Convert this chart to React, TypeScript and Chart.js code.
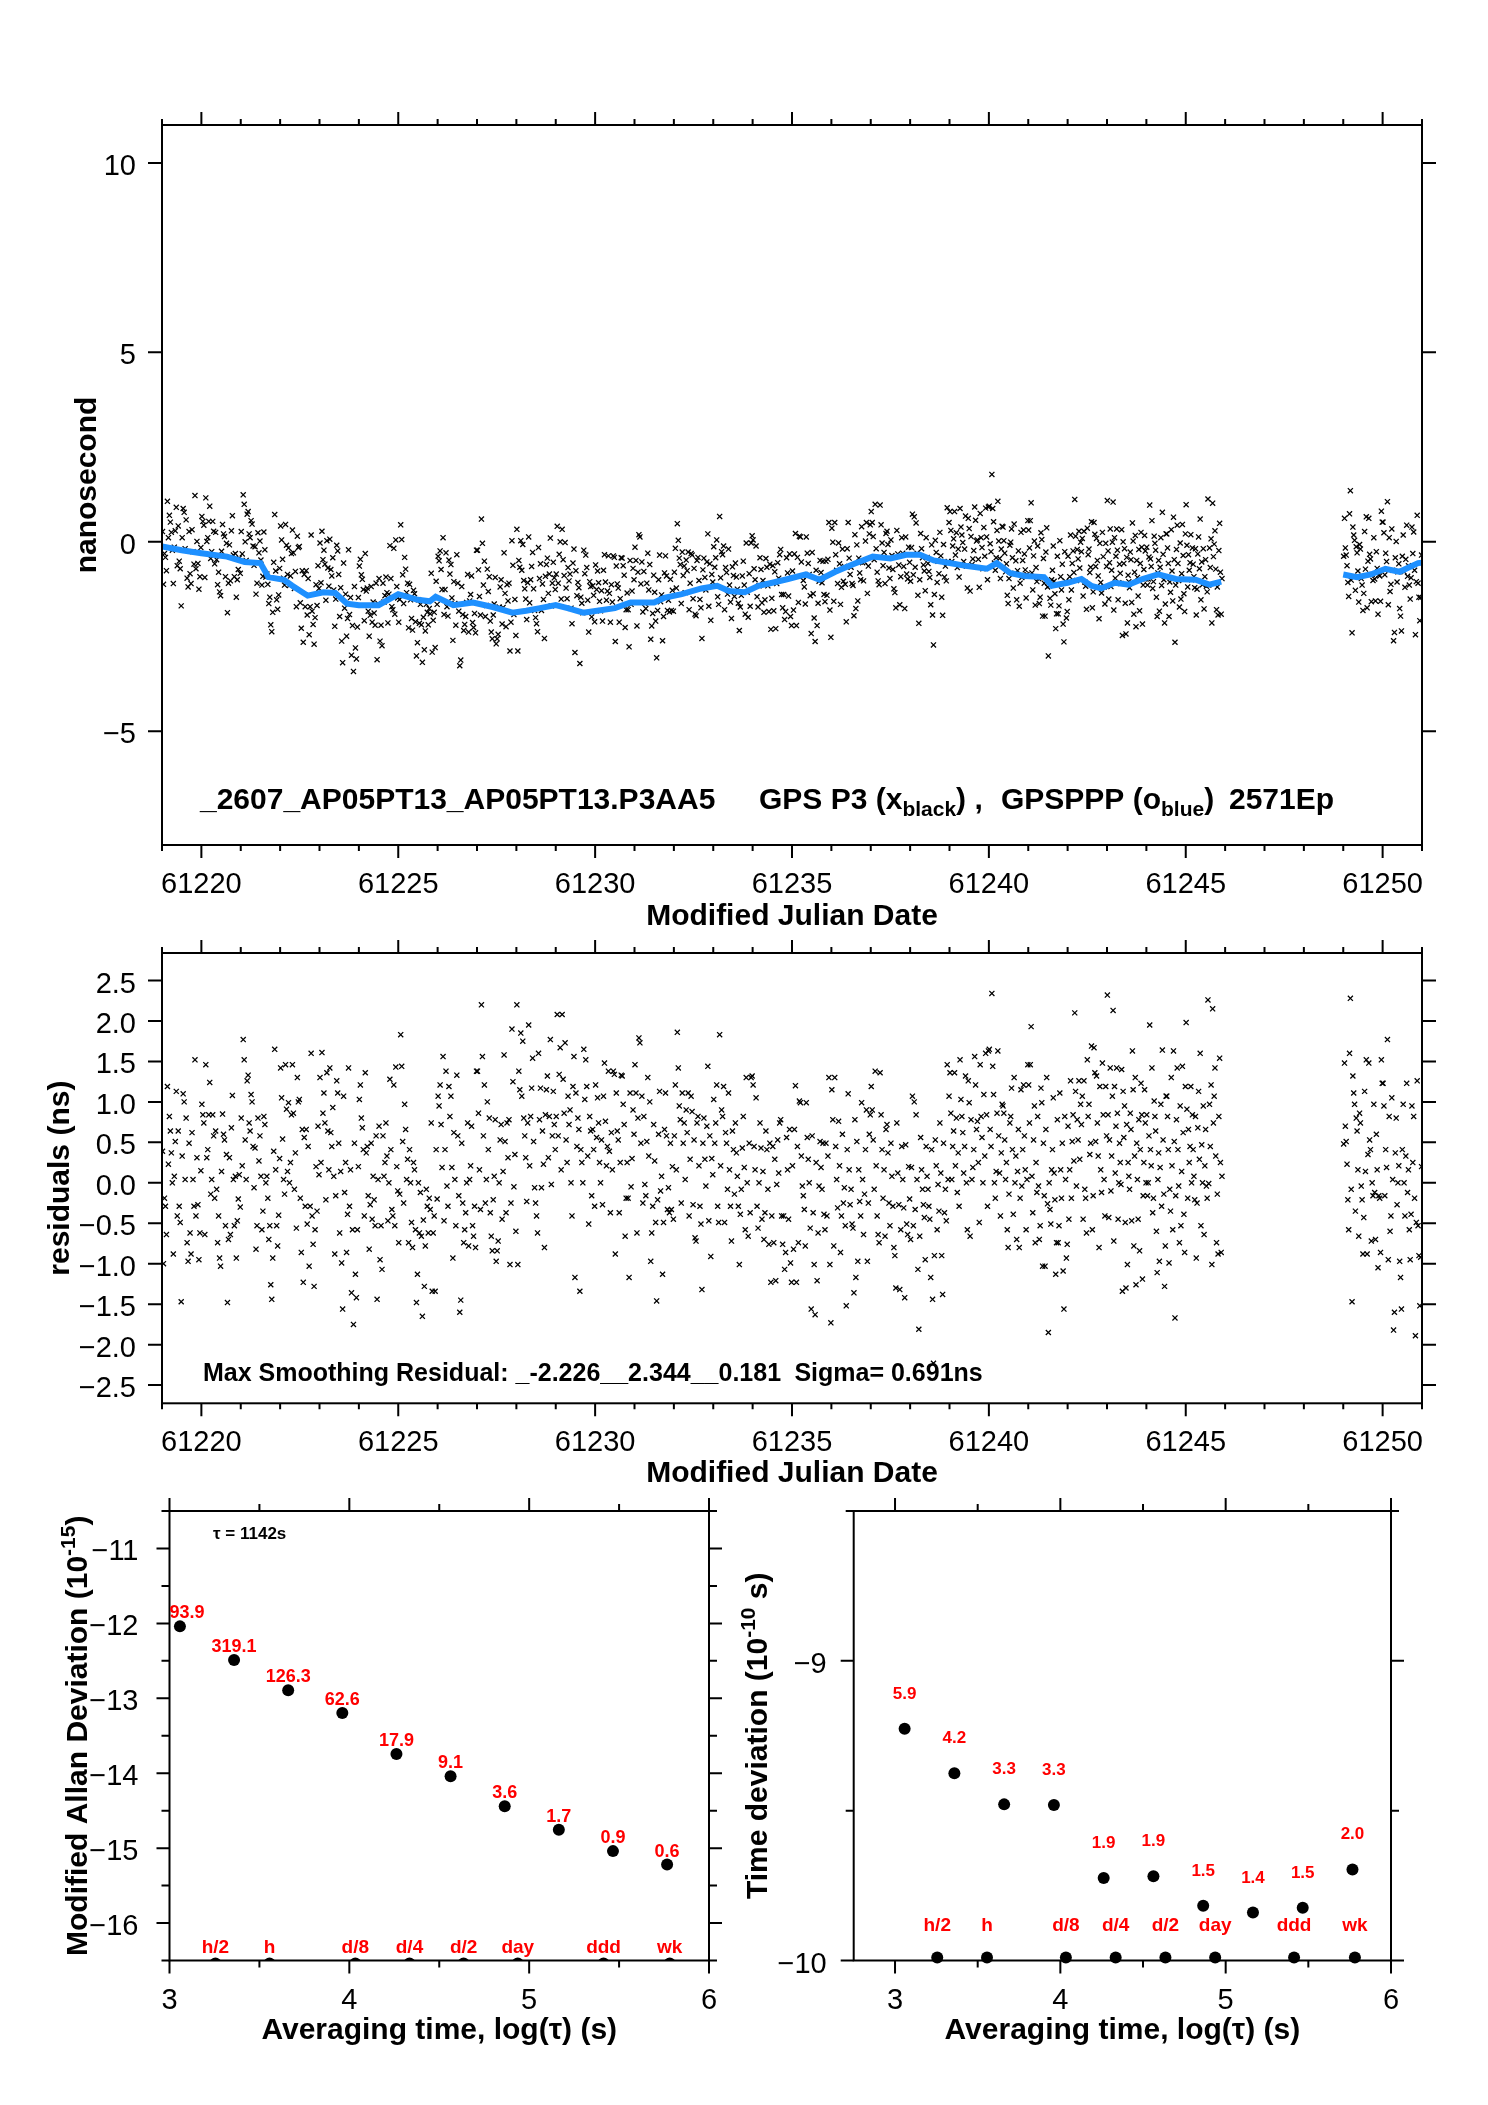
import React, { useEffect, useRef } from "react";
import { Chart, registerables } from "chart.js";

Chart.register(...registerables);

const PAGE_W = 1488;
const PAGE_H = 2105;
const FONT = "'Liberation Sans', Arial, Helvetica, sans-serif";

// ------------------------------------------------------------------ data
const MJD_MIN = 61219;
const MJD_MAX = 61251;
const MJD_MAJOR_TICKS = [61220, 61225, 61230, 61235, 61240, 61245, 61250];
const NS_MIN = -8;
const NS_MAX = 11;
const NS_TICKS = [-5, 0, 5, 10];
const RES_MIN = -2.725;
const RES_MAX = 2.84;
const RES_TICKS = [-2.5, -2, -1.5, -1, -0.5, 0, 0.5, 1, 1.5, 2, 2.5];

// GPSPPP smoothed curve (blue), ns ; null = no data
const SMOOTH_MJD = [
  61219.0, 61219.5, 61220.0, 61220.65, 61221.1, 61221.5, 61221.7, 61222.1, 61222.3, 61222.7,
  61223.1, 61223.4, 61223.7, 61224.0, 61224.5, 61225.0, 61225.5, 61225.8, 61225.95, 61226.4,
  61226.9, 61227.4, 61227.9, 61228.25, 61228.6, 61229.0, 61229.3, 61229.7, 61230.05, 61230.5,
  61230.9, 61231.5, 61231.75, 61232.2, 61232.7, 61233.1, 61233.4, 61233.8, 61234.15, 61234.5,
  61234.9, 61235.35, 61235.7, 61236.1, 61236.55, 61237.05, 61237.5, 61237.9, 61238.25, 61238.6,
  61239.0, 61239.45, 61239.95, 61240.2, 61240.55, 61240.9, 61241.4, 61241.6, 61242.0, 61242.35,
  61242.6, 61242.85, 61243.2, 61243.55, 61243.9, 61244.3, 61244.75, 61245.25, 61245.6, 61245.9,
  61247.0,
  61249.0, 61249.35, 61249.7, 61250.07, 61250.43, 61250.9, 61251.0,
];
const SMOOTH_NS = [
  -0.12, -0.22, -0.3, -0.39, -0.53, -0.56, -0.93, -1.0, -1.15, -1.42,
  -1.33, -1.35, -1.63, -1.67, -1.67, -1.38, -1.53, -1.57, -1.45, -1.67,
  -1.6, -1.72, -1.87, -1.82, -1.75, -1.67, -1.75, -1.87, -1.82, -1.75,
  -1.6, -1.6, -1.48, -1.38, -1.23, -1.16, -1.3, -1.33, -1.16, -1.08,
  -0.98, -0.86, -1.0, -0.79, -0.59, -0.39, -0.44, -0.34, -0.34, -0.49,
  -0.56, -0.64, -0.71, -0.56, -0.83, -0.9, -0.93, -1.16, -1.08, -0.98,
  -1.16, -1.23, -1.08, -1.13, -0.98, -0.86, -0.98, -1.0, -1.13, -1.05,
  null,
  -0.86, -0.93, -0.86, -0.71, -0.79, -0.56, -0.55,
];

// smoothing residuals, in hundredths of a ns, one list per MJD day
const RESID_DAYS = [
  61219, 61220, 61221, 61222, 61223, 61224, 61225, 61226, 61227, 61228,
  61229, 61230, 61231, 61232, 61233, 61234, 61235, 61236, 61237, 61238,
  61239, 61240, 61241, 61242, 61243, 61244, 61245, 61249, 61250,
];
const RESID_DAY_LEN = [
  1, 1, 1, 1, 1, 1, 1, 1, 1, 1,
  1, 1, 1, 1, 1, 1, 1, 1, 1, 1,
  1, 1, 1, 1, 1, 1, 0.93, 1, 1,
];
const RESID_CNS = [
  [39,-100,-19,-29,-64,119,23,82,64,37,0,-88,8,51,113,-41,64,-29,-49,-147,33,110,100,4,80,-74,-97,49,-62,-88,62,4,-29,152,-41,31,-27,-95,-62,15],
  [97,84,74,-64,146,31,41,84,124,-14,4,84,58,-19,64,-8,-74,-41,-93,-103,14,85,60,53,-53,35,-148,-70,31,-64,68,108,4,-53,8,-93,-47,-20,10,-30],
  [80,21,177,152,53,4,126,133,74,64,109,100,45,-6,43,-82,-53,80,27,58,8,-58,-35,82,72,0,8,-19,-70,-53,-126,-144,-93,39,165,16,-53,-78,-40,30],
  [142,105,54,4,-14,146,91,14,99,0,25,84,146,86,-8,37,-56,130,100,103,-19,-86,66,-123,56,-29,66,-51,45,-103,-29,160,-41,-76,-128,-58,20,-35,70,10],
  [130,25,161,86,111,74,-21,136,64,16,142,62,45,93,8,-88,-16,126,111,49,-62,14,-99,-156,107,-12,25,-86,-39,142,-29,16,-136,-58,-175,49,-113,-142,-58,20],
  [103,121,80,68,41,-41,136,37,45,-16,-82,-27,49,-45,8,-21,-53,58,-144,4,70,-95,-53,-107,58,8,25,74,33,-47,0,128,41,-33,-41,121,-53,143,20,-10],
  [-74,-14,183,144,51,-25,97,66,4,29,-74,41,0,-49,-80,25,16,-58,-148,-113,0,-62,-12,-66,-165,-46,-128,-78,-8,-29,-62,-19,-33,74,-134,-62,-41,-134,41,-20],
  [107,95,121,72,19,156,-47,41,138,-4,-29,119,82,107,19,-93,62,4,-53,133,58,-16,-160,-145,49,-25,-74,-58,-37,0,74,-78,4,21,70,-53,-66,-29,-80,138],
  [138,86,16,-33,220,156,58,121,-25,4,100,41,80,-37,-66,-84,-21,8,78,-97,-84,-72,0,53,72,-45,14,158,51,-37,74,31,78,-101,-25,190,125,-5,35,-60],
  [220,-101,138,115,185,107,175,80,58,31,-23,74,195,21,82,117,154,51,-6,-25,-41,-62,160,78,117,-6,64,23,-80,84,115,132,31,82,177,-2,58,113,72,41],
  [82,208,58,134,167,16,208,128,86,173,53,25,107,72,90,0,-41,119,156,-117,111,45,80,66,-134,41,25,0,165,103,152,119,33,-51,82,64,-16,66,41,-29],
  [121,56,105,74,25,0,53,-27,107,148,76,21,45,138,39,-37,62,16,138,134,-88,111,64,53,-37,25,133,132,97,72,-66,-19,25,-19,-117,111,-5,30,90,60],
  [146,111,-62,80,179,173,49,107,-25,82,-2,-16,51,130,33,100,-97,-62,-29,72,27,-49,-146,-21,60,113,-10,8,-113,-49,66,111,58,-33,-6,-37,49,-33,20,-45],
  [58,121,16,186,142,95,78,-25,111,49,74,4,90,62,111,-41,29,107,88,-27,53,-68,-72,74,82,21,-29,-51,-132,49,80,29,-4,70,144,-47,58,-91,30,10],
  [103,49,74,121,-29,-49,183,21,90,82,119,-49,62,49,-8,111,16,-29,-72,64,41,-14,74,37,8,-29,-101,-39,-8,43,82,19,-58,130,0,-66,49,-37,130,132],
  [121,45,16,105,-29,-56,0,74,43,-45,14,-70,-37,64,41,-8,-76,49,-123,-41,45,-74,29,-121,-2,53,12,74,78,-41,-76,-41,-107,-86,56,16,-45,66,-99,-123],
  [21,-82,66,120,-123,45,-74,101,99,33,-4,-16,-33,-78,99,56,29,0,-56,-156,58,-37,-101,-163,25,-121,-62,-4,51,19,-8,49,-39,-58,49,-41,33,130,-101,-173],
  [115,78,-78,130,45,4,-31,76,21,-86,-41,60,-25,-6,-53,-152,41,110,16,-27,-8,-51,-56,-136,78,-117,51,-97,16,-23,-41,99,4,-64,-14,41,90,-97,-25,60,84],
  [119,90,53,-8,138,21,-41,-64,-74,136,84,41,-19,16,-66,66,72,37,-25,-53,49,8,-29,-80,-90,-130,74,12,-27,-132,-58,45,4,-31,-142,47,-51,-64,20,-20],
  [-70,19,107,-53,100,-33,84,4,-107,-181,-66,56,16,-8,-27,-43,-95,45,8,-8,-29,-45,-117,41,-144,-223,-90,53,21,-58,-2,-35,74,12,-90,-138,49,-37,-8,-47,146,4,107],
  [136,86,4,45,64,136,21,80,-12,37,-29,152,103,82,62,12,45,132,0,-58,126,99,-66,78,4,19,41,156,121,66,76,25,-49,146,82,56,0,109,33,160,84,-29,163],
  [165,66,45,234,144,109,0,-19,14,86,163,58,12,-41,37,97,95,86,53,4,25,-58,-80,-14,74,82,117,41,-39,130,0,33,-70,14,66,-80,-19,115,-4,41,121,58,16,-58,4,146],
  [121,74,146,193,8,-37,53,95,-74,25,-12,82,-4,-70,-53,117,99,-103,49,-16,-103,66,130,-26,-185,0,-33,-51,16,41,105,12,-21,-113,-74,78,-74,-53,111,16,-19,49,-109,-156,82,4,-93,-76],
  [70,-45,16,126,-19,51,84,27,210,113,-4,78,53,126,29,97,72,107,-45,126,-8,-19,-62,152,82,97,35,49,169,-58,-16,167,136,51,132,74,33,-80,119,16,-12,148,84,4,-41,119,58],
  [232,84,-43,53,142,-10,33,107,213,-72,119,12,70,142,86,-45,0,49,25,-2,140,-134,113,56,95,-49,-130,72,-101,25,8,-8,86,66,-47,163,115,-78,33,130,-126,49,4,-45,78,-84,41,123,84,-119,-16,25,115,74,0],
  [84,-16,0,58,195,41,21,142,-37,-19,101,82,64,-60,-111,4,37,-97,19,97,-29,164,53,-14,-128,-78,107,107,82,41,-99,-8,-35,130,21,-58,163,51,-167,-16,78,142,41,-4,-74,95,-53,14,144,62,-39,-86,119],
  [198,91,-19,66,25,45,119,0,84,41,8,-21,82,-93,-25,68,113,29,160,-53,47,0,95,-64,21,66,-4,-19,226,-1,97,45,121,-101,215,74,107,142,33,-74,-14,-88,82,154,25,-86,8],
  [48,148,70,51,23,-21,-58,160,228,-8,-147,132,111,97,-35,80,64,16,-66,86,74,-4,-21,-88,-43,113,14,152,-88,35,148,53,41,-72,0,-16,97,-12,-70,60,16,-105,-16,-19,-86,152,123],
  [123,95,-16,41,19,177,-95,82,-60,-41,105,4,-182,-160,37,80,-27,0,21,-97,-117,-156,41,97,0,-41,33,123,-12,16,-58,-95,-39,95,25,82,-19,-189,-49,126,-53,-90,-152,-92,20],
];

// Allan / time deviation panels
const ADEV_X_MIN = 3;
const ADEV_X_MAX = 6;
const ADEV_Y_MIN = -16.5;
const ADEV_Y_MAX = -10.5;
const TDEV_X_MIN = 2.75;
const TDEV_X_MAX = 6;
const TDEV_Y_MIN = -10;
const TDEV_Y_MAX = -8.5;
const LOG_TAU = [3.058, 3.359, 3.66, 3.961, 4.262, 4.563, 4.864, 5.165, 5.466, 5.767];
const ADEV_LOG = [-12.04, -12.49, -12.894, -13.197, -13.745, -14.04, -14.44, -14.755, -15.04, -15.22];
const ADEV_LABELS = ["93.9", "319.1", "126.3", "62.6", "17.9", "9.1", "3.6", "1.7", "0.9", "0.6"];
const TDEV_LOG = [-9.227, -9.375, -9.479, -9.481, -9.725, -9.719, -9.817, -9.84, -9.824, -9.696];
const TDEV_LABELS = ["5.9", "4.2", "3.3", "3.3", "1.9", "1.9", "1.5", "1.4", "1.5", "2.0"];
const MARK_LOG_TAU = [3.2553, 3.5563, 4.0334, 4.3345, 4.6355, 4.9365, 5.4137, 5.7816];
const MARK_LABELS = ["h/2", "h", "d/8", "d/4", "d/2", "day", "ddd", "wk"];
const ADEV_MARK_Y = -16.54;
const TDEV_MARK_Y = -9.99;
const ADEV_Y_MAJOR = [-16, -15, -14, -13, -12, -11];
const TDEV_Y_MAJOR = [-10, -9];
const LOG_X_MAJOR = [3, 4, 5, 6];

// ------------------------------------------------------------------ layout
const AREA_TOP = { l: 162, t: 125, r: 1422, b: 845 };
const AREA_MID = { l: 162, t: 953, r: 1422, b: 1403.3 };
const AREA_BL = { l: 169.5, t: 1511, r: 709, b: 1960.5 };
const AREA_BR = { l: 853.7, t: 1511, r: 1391, b: 1960.5 };

type Area = { l: number; t: number; r: number; b: number };

function range(a: number, b: number, step: number): number[] {
  const out: number[] = [];
  const n = Math.round((b - a) / step);
  for (let i = 0; i <= n; i++) out.push(+(a + i * step).toFixed(6));
  return out;
}

function fmt(v: number, d: number): string {
  const s = Math.abs(v).toFixed(d);
  return (v < 0 ? "\u2212" : "") + s;
}

function smoothAt(t: number): number {
  let best = 0;
  let bd = Infinity;
  for (let i = 0; i < SMOOTH_MJD.length; i++) {
    const v = SMOOTH_NS[i];
    if (v === null) continue;
    const d = Math.abs(SMOOTH_MJD[i] - t);
    if (d < bd) {
      bd = d;
      best = v as number;
    }
  }
  return best;
}

const residPts: { x: number; y: number }[] = [];
const rawPts: { x: number; y: number }[] = [];
RESID_DAYS.forEach((day, k) => {
  const vals = RESID_CNS[k];
  const len = RESID_DAY_LEN[k];
  vals.forEach((c, i) => {
    const t = day + (len * (i + 0.5)) / vals.length;
    const r = c / 100;
    residPts.push({ x: t, y: r });
    rawPts.push({ x: t, y: smoothAt(t) + r });
  });
});
const smoothPts = SMOOTH_MJD.map((x, i) => ({ x, y: SMOOTH_NS[i] }));

// ------------------------------------------------------------------ drawing helpers
type FrameSpec = {
  xMajor: number[];
  xMinor: number[];
  xMajorLen: number;
  xMinorLen: number;
  yMajor: number[];
  yMinor: number[];
  yMajorLen: number;
  yMinorLen: number;
};

function drawFrame(chart: any, s: FrameSpec) {
  const ctx: CanvasRenderingContext2D = chart.ctx;
  const { left, right, top, bottom } = chart.chartArea;
  const xs = chart.scales.x;
  const ys = chart.scales.y;
  ctx.save();
  ctx.strokeStyle = "#000";
  ctx.lineWidth = 2;
  ctx.lineCap = "butt";
  ctx.strokeRect(left, top, right - left, bottom - top);
  ctx.beginPath();
  const xt = (vals: number[], len: number) => {
    vals.forEach((v) => {
      const p = xs.getPixelForValue(v);
      if (p < left - 0.5 || p > right + 0.5) return;
      ctx.moveTo(p, top);
      ctx.lineTo(p, top - len);
      ctx.moveTo(p, bottom);
      ctx.lineTo(p, bottom + len);
    });
  };
  const yt = (vals: number[], len: number) => {
    vals.forEach((v) => {
      const p = ys.getPixelForValue(v);
      if (p < top - 0.5 || p > bottom + 0.5) return;
      ctx.moveTo(left, p);
      ctx.lineTo(left - len, p);
      ctx.moveTo(right, p);
      ctx.lineTo(right + len, p);
    });
  };
  xt(s.xMinor, s.xMinorLen);
  xt(s.xMajor, s.xMajorLen);
  yt(s.yMinor, s.yMinorLen);
  yt(s.yMajor, s.yMajorLen);
  ctx.stroke();
  ctx.restore();
}

function drawXLabels(chart: any, vals: number[], f: (v: number) => string, dy: number) {
  const ctx: CanvasRenderingContext2D = chart.ctx;
  ctx.save();
  ctx.font = `29px ${FONT}`;
  ctx.fillStyle = "#000";
  ctx.textAlign = "center";
  ctx.textBaseline = "alphabetic";
  vals.forEach((v) => {
    ctx.fillText(f(v), chart.scales.x.getPixelForValue(v), chart.chartArea.bottom + dy);
  });
  ctx.restore();
}

function drawYLabels(chart: any, vals: number[], f: (v: number) => string, gap: number) {
  const ctx: CanvasRenderingContext2D = chart.ctx;
  ctx.save();
  ctx.font = `29px ${FONT}`;
  ctx.fillStyle = "#000";
  ctx.textAlign = "right";
  ctx.textBaseline = "alphabetic";
  vals.forEach((v) => {
    ctx.fillText(f(v), chart.chartArea.left - gap, chart.scales.y.getPixelForValue(v) + 12);
  });
  ctx.restore();
}

function drawXTitle(chart: any, text: string, dy: number) {
  const ctx: CanvasRenderingContext2D = chart.ctx;
  const { left, right, bottom } = chart.chartArea;
  ctx.save();
  ctx.font = `bold 30px ${FONT}`;
  ctx.fillStyle = "#000";
  ctx.textAlign = "center";
  ctx.textBaseline = "alphabetic";
  ctx.fillText(text, (left + right) / 2, bottom + dy);
  ctx.restore();
}

type Part = { t: string; s: number; up: number };

function drawRotTitle(chart: any, baseX: number, parts: Part[]) {
  const ctx: CanvasRenderingContext2D = chart.ctx;
  const { top, bottom } = chart.chartArea;
  ctx.save();
  ctx.translate(baseX, (top + bottom) / 2);
  ctx.rotate(-Math.PI / 2);
  ctx.fillStyle = "#000";
  ctx.textAlign = "left";
  ctx.textBaseline = "alphabetic";
  let total = 0;
  parts.forEach((p) => {
    ctx.font = `bold ${p.s}px ${FONT}`;
    total += ctx.measureText(p.t).width;
  });
  let x = -total / 2;
  parts.forEach((p) => {
    ctx.font = `bold ${p.s}px ${FONT}`;
    ctx.fillText(p.t, x, -p.up);
    x += ctx.measureText(p.t).width;
  });
  ctx.restore();
}

function drawRun(ctx: CanvasRenderingContext2D, x: number, y: number, parts: Part[]) {
  ctx.textAlign = "left";
  ctx.textBaseline = "alphabetic";
  parts.forEach((p) => {
    ctx.font = `bold ${p.s}px ${FONT}`;
    ctx.fillText(p.t, x, y - p.up);
    x += ctx.measureText(p.t).width;
  });
}

function drawPointLabels(chart: any, dsIndex: number, labels: string[], size: number, dy: number, atAxis: boolean) {
  const ctx: CanvasRenderingContext2D = chart.ctx;
  const { left, right, bottom } = chart.chartArea;
  const meta = chart.getDatasetMeta(dsIndex);
  ctx.save();
  ctx.font = `bold ${size}px ${FONT}`;
  ctx.fillStyle = "#ff0000";
  ctx.textAlign = "left";
  ctx.textBaseline = "alphabetic";
  meta.data.forEach((el: any, i: number) => {
    const txt = labels[i];
    const w = ctx.measureText(txt).width;
    let x0 = el.x - w / 2;
    if (x0 < left) x0 = left;
    if (x0 + w > right) x0 = right - w;
    const y = atAxis ? bottom - dy : el.y - dy;
    ctx.fillText(txt, x0, y);
  });
  ctx.restore();
}

// ------------------------------------------------------------------ chart configs
function baseOptions(area: Area, xmin: number, xmax: number, ymin: number, ymax: number) {
  return {
    animation: false,
    responsive: false,
    devicePixelRatio: 1,
    events: [],
    layout: {
      padding: { left: area.l, top: area.t, right: PAGE_W - area.r, bottom: PAGE_H - area.b },
    },
    plugins: { legend: { display: false }, tooltip: { enabled: false } },
    scales: {
      x: { type: "linear", display: false, min: xmin, max: xmax },
      y: { type: "linear", display: false, min: ymin, max: ymax },
    },
  };
}

const BLUE = "#1e90ff";

function topConfig(): any {
  return {
    type: "scatter",
    data: {
      datasets: [
        {
          data: smoothPts,
          showLine: true,
          spanGaps: false,
          borderColor: BLUE,
          borderWidth: 6,
          pointRadius: 0,
          clip: 0,
        },
        {
          data: rawPts,
          pointStyle: "crossRot",
          pointRadius: 3.6,
          borderWidth: 1.25,
          borderColor: "#000",
          backgroundColor: "#000",
          clip: 0,
        },
      ],
    },
    options: baseOptions(AREA_TOP, MJD_MIN, MJD_MAX, NS_MIN, NS_MAX),
    plugins: [
      {
        id: "topDecor",
        afterDraw(chart: any) {
          drawFrame(chart, {
            xMajor: MJD_MAJOR_TICKS,
            xMinor: range(MJD_MIN, MJD_MAX, 1),
            xMajorLen: 13,
            xMinorLen: 6,
            yMajor: NS_TICKS,
            yMinor: [],
            yMajorLen: 14,
            yMinorLen: 0,
          });
          drawXLabels(chart, MJD_MAJOR_TICKS, (v) => String(v), 48);
          drawYLabels(chart, NS_TICKS, (v) => fmt(v, 0), 26);
          drawXTitle(chart, "Modified Julian Date", 80);
          drawRotTitle(chart, 96, [{ t: "nanosecond", s: 30, up: 0 }]);
          const ctx: CanvasRenderingContext2D = chart.ctx;
          ctx.save();
          ctx.fillStyle = "#000";
          const by = 809;
          drawRun(ctx, 200, by, [{ t: "_2607_AP05PT13_AP05PT13.P3AA5", s: 30, up: 0 }]);
          drawRun(ctx, 759, by, [
            { t: "GPS P3 (x", s: 30, up: 0 },
            { t: "black", s: 21, up: -7 },
            { t: ") ,", s: 30, up: 0 },
          ]);
          drawRun(ctx, 1001, by, [
            { t: "GPSPPP (o", s: 30, up: 0 },
            { t: "blue", s: 21, up: -7 },
            { t: ")", s: 30, up: 0 },
          ]);
          drawRun(ctx, 1229, by, [{ t: "2571Ep", s: 30, up: 0 }]);
          ctx.restore();
        },
      },
    ],
  };
}

function midConfig(): any {
  return {
    type: "scatter",
    data: {
      datasets: [
        {
          data: residPts,
          pointStyle: "crossRot",
          pointRadius: 3.6,
          borderWidth: 1.25,
          borderColor: "#000",
          backgroundColor: "#000",
          clip: 0,
        },
      ],
    },
    options: baseOptions(AREA_MID, MJD_MIN, MJD_MAX, RES_MIN, RES_MAX),
    plugins: [
      {
        id: "midDecor",
        afterDraw(chart: any) {
          drawFrame(chart, {
            xMajor: MJD_MAJOR_TICKS,
            xMinor: range(MJD_MIN, MJD_MAX, 1),
            xMajorLen: 13,
            xMinorLen: 6,
            yMajor: RES_TICKS,
            yMinor: [],
            yMajorLen: 14,
            yMinorLen: 0,
          });
          drawXLabels(chart, MJD_MAJOR_TICKS, (v) => String(v), 48);
          drawYLabels(chart, RES_TICKS, (v) => fmt(v, 1), 26);
          drawXTitle(chart, "Modified Julian Date", 79);
          drawRotTitle(chart, 69, [{ t: "residuals (ns)", s: 30, up: 0 }]);
          const ctx: CanvasRenderingContext2D = chart.ctx;
          ctx.save();
          ctx.fillStyle = "#000";
          drawRun(ctx, 203, 1380.7, [{ t: "Max Smoothing Residual: _-2.226__2.344__0.181", s: 25, up: 0 }]);
          drawRun(ctx, 794.4, 1380.7, [{ t: "Sigma= 0.691ns", s: 25, up: 0 }]);
          ctx.restore();
        },
      },
    ],
  };
}

function adevConfig(): any {
  return {
    type: "scatter",
    data: {
      datasets: [
        {
          data: LOG_TAU.map((x, i) => ({ x, y: ADEV_LOG[i] })),
          pointStyle: "circle",
          pointRadius: 6,
          borderWidth: 0,
          backgroundColor: "#000",
          clip: false,
        },
        {
          data: MARK_LOG_TAU.map((x) => ({ x, y: ADEV_MARK_Y })),
          pointStyle: "circle",
          pointRadius: 6,
          borderWidth: 0,
          backgroundColor: "#000",
          clip: 0,
        },
      ],
    },
    options: baseOptions(AREA_BL, ADEV_X_MIN, ADEV_X_MAX, ADEV_Y_MIN, ADEV_Y_MAX),
    plugins: [
      {
        id: "adevDecor",
        afterDraw(chart: any) {
          drawFrame(chart, {
            xMajor: LOG_X_MAJOR,
            xMinor: range(3, 6, 0.5),
            xMajorLen: 13,
            xMinorLen: 7,
            yMajor: ADEV_Y_MAJOR,
            yMinor: range(ADEV_Y_MIN, ADEV_Y_MAX, 0.5),
            yMajorLen: 13,
            yMinorLen: 8,
          });
          drawXLabels(chart, LOG_X_MAJOR, (v) => String(v), 48);
          drawYLabels(chart, ADEV_Y_MAJOR, (v) => fmt(v, 0), 31);
          drawXTitle(chart, "Averaging time, log(\u03c4) (s)", 78.5);
          drawRotTitle(chart, 87, [
            { t: "Modified Allan Deviation (10", s: 30, up: 0 },
            { t: "-15", s: 21, up: 12 },
            { t: ")", s: 30, up: 0 },
          ]);
          drawPointLabels(chart, 0, ADEV_LABELS, 18, 8, false);
          drawPointLabels(chart, 1, MARK_LABELS, 19, 8, true);
          const ctx: CanvasRenderingContext2D = chart.ctx;
          ctx.save();
          ctx.fillStyle = "#000";
          drawRun(ctx, 213, 1539.3, [{ t: "\u03c4 = 1142s", s: 17, up: 0 }]);
          ctx.restore();
        },
      },
    ],
  };
}

function tdevConfig(): any {
  return {
    type: "scatter",
    data: {
      datasets: [
        {
          data: LOG_TAU.map((x, i) => ({ x, y: TDEV_LOG[i] })),
          pointStyle: "circle",
          pointRadius: 6,
          borderWidth: 0,
          backgroundColor: "#000",
          clip: false,
        },
        {
          data: MARK_LOG_TAU.map((x) => ({ x, y: TDEV_MARK_Y })),
          pointStyle: "circle",
          pointRadius: 6,
          borderWidth: 0,
          backgroundColor: "#000",
          clip: false,
        },
      ],
    },
    options: baseOptions(AREA_BR, TDEV_X_MIN, TDEV_X_MAX, TDEV_Y_MIN, TDEV_Y_MAX),
    plugins: [
      {
        id: "tdevDecor",
        afterDraw(chart: any) {
          drawFrame(chart, {
            xMajor: LOG_X_MAJOR,
            xMinor: range(3, 6, 0.5),
            xMajorLen: 13,
            xMinorLen: 7,
            yMajor: TDEV_Y_MAJOR,
            yMinor: range(TDEV_Y_MIN, TDEV_Y_MAX, 0.5),
            yMajorLen: 13,
            yMinorLen: 8,
          });
          drawXLabels(chart, LOG_X_MAJOR, (v) => String(v), 48);
          drawYLabels(chart, TDEV_Y_MAJOR, (v) => fmt(v, 0), 27);
          drawXTitle(chart, "Averaging time, log(\u03c4) (s)", 78.5);
          drawRotTitle(chart, 767, [
            { t: "Time deviation (10", s: 30, up: 0 },
            { t: "-10", s: 21, up: 12 },
            { t: " s)", s: 30, up: 0 },
          ]);
          drawPointLabels(chart, 0, TDEV_LABELS, 17, 30, false);
          drawPointLabels(chart, 1, MARK_LABELS, 19, 27, false);
        },
      },
    ],
  };
}

// ------------------------------------------------------------------ components
function PlotCanvas({ make }: { make: () => any }) {
  const ref = useRef<HTMLCanvasElement | null>(null);
  useEffect(() => {
    if (!ref.current) return;
    const chart = new Chart(ref.current, make());
    return () => chart.destroy();
  }, [make]);
  return (
    <canvas
      ref={ref}
      width={PAGE_W}
      height={PAGE_H}
      style={{ position: "absolute", left: 0, top: 0, width: PAGE_W, height: PAGE_H }}
    />
  );
}

export default function App() {
  return (
    <div
      style={{
        position: "absolute",
        left: 0,
        top: 0,
        width: PAGE_W,
        height: PAGE_H,
        background: "#ffffff",
        overflow: "hidden",
      }}
    >
      <PlotCanvas make={topConfig} />
      <PlotCanvas make={midConfig} />
      <PlotCanvas make={adevConfig} />
      <PlotCanvas make={tdevConfig} />
    </div>
  );
}
